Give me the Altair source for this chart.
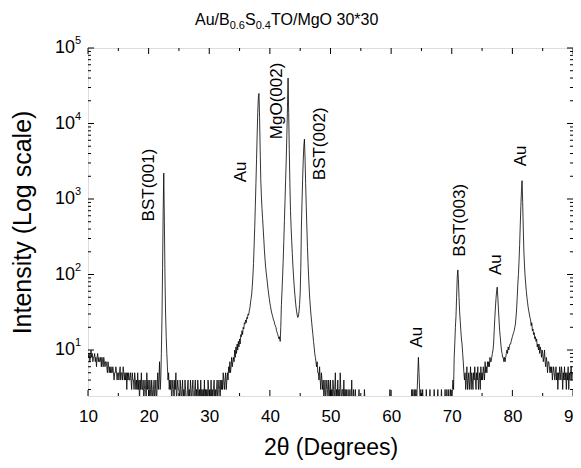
import altair as alt
import pandas as pd

# ---- data: XRD intensity, one row per degree, 0.1 deg steps (row start + 0.0 ... 0.9)
start_deg = 10
counts_rows = [
    [9, 8, 9, 7, 8, 10, 8, 9, 7, 8],             # 10
    [8, 9, 7, 8, 6, 8, 9, 7, 8, 7],              # 11
    [7, 8, 6, 8, 7, 6, 8, 7, 6, 7],              # 12
    [7, 6, 5, 7, 6, 5, 6, 5, 6, 5],              # 13
    [5, 6, 5, 4, 5, 5, 6, 5, 4, 5],              # 14
    [5, 4, 5, 6, 4, 5, 5, 4, 6, 5],              # 15
    [4, 5, 4, 5, 3, 5, 4, 5, 4, 4],              # 16
    [5, 4, 3, 5, 4, 4, 3, 5, 4, 3],              # 17
    [4, 3, 5, 3, 4, 2, 4, 3, 5, 3],              # 18
    [3, 4, 2, 3, 4, 3, 2, 5, 3, 4],              # 19
    [3, 2, 4, 3, 2, 4, 3, 2, 3, 4],              # 20
    [2, 3, 4, 2, 3, 5, 3, 4, 7, 3],              # 21
    [4, 9, 25, 120, 700, 2200, 500, 90, 30, 15], # 22
    [9, 6, 4, 5, 3, 4, 3, 4, 2, 3],              # 23
    [4, 3, 2, 4, 3, 5, 2, 3, 4, 3],              # 24
    [3, 2, 4, 3, 2, 3, 4, 2, 3, 2],              # 25
    [4, 3, 2, 2, 3, 4, 2, 3, 2, 4],              # 26
    [3, 2, 3, 4, 2, 2, 3, 4, 2, 3],              # 27
    [2, 4, 3, 2, 3, 2, 4, 2, 3, 2],              # 28
    [3, 2, 4, 2, 3, 2, 3, 2, 4, 3],              # 29
    [2, 3, 2, 4, 2, 3, 2, 3, 4, 2],              # 30
    [3, 2, 3, 4, 2, 3, 4, 3, 2, 4],              # 31
    [3, 4, 3, 5, 4, 3, 4, 5, 3, 4],              # 32
    [5, 4, 6, 5, 7, 5, 6, 8, 6, 7],              # 33
    [8, 7, 10, 8, 11, 9, 12, 10, 13, 11],        # 34
    [14, 12, 16, 15, 18, 16, 20, 19, 23, 22],    # 35
    [25, 23, 27, 26, 30, 29, 33, 36, 42, 48],    # 36
    [55, 70, 95, 140, 240, 420, 800, 1600, 3300, 7000],          # 37
    [14000, 22000, 25000, 12000, 4500, 1800, 1100, 750, 550, 400],  # 38
    [290, 210, 160, 125, 105, 90, 75, 64, 55, 48],               # 39
    [42, 38, 34, 31, 29, 27, 25, 24, 22, 21],                    # 40
    [20, 18, 17, 16, 15, 14, 15, 13, 20, 40],                    # 41
    [60, 95, 155, 280, 520, 950, 1800, 3300, 7000, 16000],       # 42
    [40000, 14000, 4500, 1600, 700, 420, 280, 190, 130, 95],     # 43
    [72, 57, 46, 38, 33, 29, 27, 28, 32, 40],                    # 44
    [57, 120, 425, 900, 1800, 3200, 5000, 6200, 3500, 1600],     # 45
    [800, 425, 230, 140, 90, 62, 45, 35, 28, 23],                # 46
    [19, 16, 13, 11, 9, 8, 7, 6, 7, 5],          # 47
    [5, 4, 6, 4, 3, 5, 4, 3, 4, 2],              # 48
    [3, 4, 2, 3, 4, 3, 2, 4, 3, 2],              # 49
    [4, 2, 3, 2, 4, 3, 2, 3, 5, 2],              # 50
    [3, 2, 4, 2, 3, 2, 5, 3, 2, 3],              # 51
    [3, 2, 4, 2, 3, 2, 3, 2, 2, 3],              # 52
    [2, 2, 3, 2, 2, 4, 2, 2, 3, 2],              # 53
    [2, 3, 2, 2, 2, 2, 2, 3, 2, 2],              # 54
    [2, 2, 2, 2, 2, 2, 3, 2, 2, 2],              # 55
    [2, 2, 2, 2, 2, 2, 2, 2, 2, 2],              # 56
    [2, 2, 2, 2, 2, 2, 2, 2, 2, 2],              # 57
    [2, 2, 2, 2, 2, 2, 2, 2, 2, 2],              # 58
    [2, 2, 2, 2, 2, 2, 2, 2, 3, 2],              # 59
    [2, 2, 2, 2, 2, 2, 2, 2, 2, 2],              # 60
    [2, 2, 2, 2, 2, 2, 2, 2, 2, 2],              # 61
    [2, 2, 2, 2, 2, 2, 2, 2, 2, 2],              # 62
    [2, 2, 2, 2, 3, 2, 3, 2, 2, 3],              # 63
    [2, 3, 2, 3, 5, 8, 5, 3, 2, 3],              # 64
    [2, 2, 3, 2, 2, 2, 2, 2, 3, 2],              # 65
    [2, 2, 2, 2, 3, 2, 2, 2, 2, 2],              # 66
    [2, 3, 2, 2, 2, 2, 2, 3, 2, 2],              # 67
    [2, 2, 2, 3, 2, 2, 2, 2, 2, 3],              # 68
    [2, 2, 3, 2, 2, 3, 2, 2, 3, 2],              # 69
    [2, 3, 4, 3, 8, 12, 20, 28, 50, 90],         # 70
    [115, 85, 50, 32, 24, 18, 14, 12, 9, 7],     # 71
    [5, 4, 5, 3, 4, 6, 3, 4, 5, 3],              # 72
    [4, 6, 3, 5, 4, 3, 5, 4, 6, 4],              # 73
    [3, 5, 4, 6, 3, 4, 5, 3, 6, 4],              # 74
    [5, 4, 6, 5, 4, 7, 5, 6, 5, 7],              # 75
    [6, 7, 6, 8, 7, 7, 8, 9, 10, 12],            # 76
    [18, 26, 36, 48, 60, 68, 50, 35, 25, 18],    # 77
    [15, 12, 10, 9, 8, 8, 7, 8, 7, 8],           # 78
    [9, 10, 9, 11, 10, 11, 12, 12, 13, 14],      # 79
    [15, 16, 17, 18, 20, 22, 27, 35, 50, 75],    # 80
    [100, 150, 250, 450, 800, 1300, 1750, 900, 400, 200],  # 81
    [130, 95, 75, 60, 50, 43, 37, 33, 30, 27],   # 82
    [25, 21, 23, 18, 19, 16, 17, 14, 15, 13],    # 83
    [14, 11, 12, 10, 12, 9, 11, 10, 8, 10],      # 84
    [9, 7, 8, 10, 7, 6, 8, 7, 5, 7],             # 85
    [7, 6, 5, 6, 5, 6, 4, 5, 6, 5],              # 86
    [4, 5, 6, 4, 5, 3, 5, 4, 6, 5],              # 87
    [4, 6, 5, 3, 5, 4, 6, 4, 5, 3],              # 88
    [5, 4, 6, 3, 5, 4, 5, 6, 4, 5],              # 89
]
last_count = 5  # at 90.0

# peak annotations
ann_labels = ["BST(001)", "Au", "MgO(002)", "BST(002)", "Au", "BST(003)", "Au", "Au"]
ann_x = [20.1, 35.2, 41.2, 48.3, 64.3, 71.4, 77.3, 81.4]
ann_y = [1530, 2290, 19900, 5380, 14.8, 522, 135, 3720]

# axis ticks
x_major = [10, 20, 30, 40, 50, 60, 70, 80, 90]
x_minor = [15, 25, 35, 45, 55, 65, 75, 85]
y_major = [10, 100, 1000, 10000, 100000]
y_exps = ["1", "2", "3", "4", "5"]
y_minor = [m * d for d in [1, 10, 100, 1000, 10000] for m in range(2, 10) if m * d > 2.5]

Y_MIN, Y_MAX = 2.46, 100000
W, H = 485, 348
FONT = "Liberation Sans"

flat = [c for row in counts_rows for c in row] + [last_count]
theta = [round(start_deg + 0.1 * i, 1) for i in range(len(flat))]
df = pd.DataFrame({"t": theta, "I": flat})

xs = alt.Scale(domain=[10, 90], nice=False, zero=False)
ys = alt.Scale(type="log", domain=[Y_MIN, Y_MAX], nice=False)

XT = "2θ (Degrees)"
YT = "Intensity (Log scale)"

line = alt.Chart(df).mark_line(color="black", strokeWidth=0.8, clip=True).encode(
    x=alt.X("t:Q", scale=xs, title=XT,
            axis=alt.Axis(values=x_major, format="d", titleFontSize=23,
                          titleFont=FONT, titleFontWeight="normal", labelFontSize=17,
                          labelFont=FONT, labelPadding=12, titlePadding=12, ticks=False,
                          labelFlush=False, labelOverlap=False,
                          domain=False, grid=False, labelColor="black", titleColor="black")),
    y=alt.Y("I:Q", scale=ys, title=YT,
            axis=alt.Axis(labels=False, ticks=False, domain=False, grid=False,
                          titleFontSize=25, titleFont=FONT,
                          titleFontWeight="normal", titlePadding=53, titleColor="black")),
)

def xticks(vals, length):
    d = pd.DataFrame({"t": vals})
    b = alt.Chart(d).mark_rule(color="black", strokeWidth=1).encode(
        x=alt.X("t:Q", scale=xs, title=XT), y=alt.value(H), y2=alt.value(H - length))
    t = alt.Chart(d).mark_rule(color="black", strokeWidth=1).encode(
        x=alt.X("t:Q", scale=xs, title=XT), y=alt.value(0), y2=alt.value(length))
    return [b, t]

def yticks(vals, length):
    d = pd.DataFrame({"I": vals})
    l = alt.Chart(d).mark_rule(color="black", strokeWidth=1).encode(
        y=alt.Y("I:Q", scale=ys, title=YT), x=alt.value(0), x2=alt.value(length))
    r = alt.Chart(d).mark_rule(color="black", strokeWidth=1).encode(
        y=alt.Y("I:Q", scale=ys, title=YT), x=alt.value(W), x2=alt.value(W - length))
    return [l, r]

ylab_df = pd.DataFrame({"I": y_major, "e": y_exps, "b": ["10"] * 5})
ylab_base = alt.Chart(ylab_df).mark_text(align="right", baseline="middle", fontSize=18,
                                         font=FONT, color="black").encode(
    y=alt.Y("I:Q", scale=ys, title=YT), x=alt.value(-13), text="b:N")
ylab_exp = alt.Chart(ylab_df).mark_text(align="left", baseline="middle", fontSize=11,
                                        font=FONT, color="black", dy=-7).encode(
    y=alt.Y("I:Q", scale=ys, title=YT), x=alt.value(-13), text="e:N")

ann_df = pd.DataFrame({"label": ann_labels, "t": ann_x, "I": ann_y})
ann = alt.Chart(ann_df).mark_text(angle=270, align="center", baseline="middle", fontSize=17,
                                  font=FONT, color="black").encode(
    x=alt.X("t:Q", scale=xs, title=XT), y=alt.Y("I:Q", scale=ys, title=YT), text="label:N")

# title pieces (with subscripts)
title_pieces = [("Au/B", 107, -23, 16), ("0.6", 141.7, -19, 11), ("S", 157, -23, 16),
                ("0.4", 167.7, -19, 11), ("TO/MgO 30*30", 183, -23, 16)]
title_layers = []
for txt, px, py, fs in title_pieces:
    title_layers.append(
        alt.Chart(pd.DataFrame({"s": [txt]})).mark_text(
            align="left", baseline="alphabetic", fontSize=fs, font=FONT, color="black").encode(
            x=alt.value(px), y=alt.value(py), text="s:N"))

layers = [line] + xticks(x_major, 6) + xticks(x_minor, 3) + yticks(y_major, 6) + \
    yticks(y_minor, 3) + [ylab_base, ylab_exp, ann] + title_layers

chart = alt.layer(*layers).properties(
    width=W, height=H,
    padding={"left": 80, "top": 40, "right": 0, "bottom": 67},
    autosize=alt.AutoSizeParams(type="none"),
).configure_view(stroke="black", strokeWidth=1).configure(background="white")

chart.save("out.html", embed_options={"renderer": "svg", "actions": False})
